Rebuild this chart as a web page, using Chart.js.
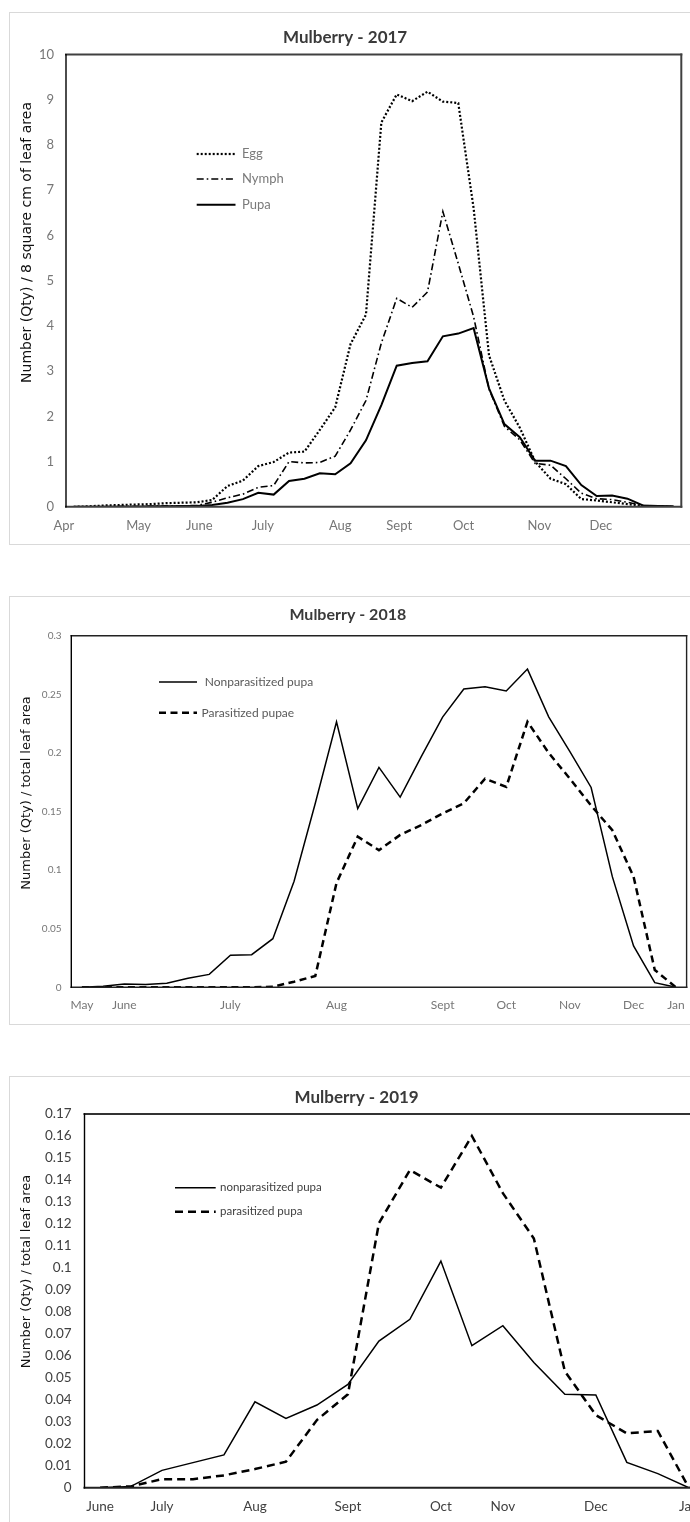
<!DOCTYPE html>
<html>
<head>
<meta charset="utf-8">
<script src="https://cdn.jsdelivr.net/npm/chart.js@4.4.0/dist/chart.umd.min.js"></script>
<style>
html,body{margin:0;padding:0;background:#fff;overflow:hidden;width:690px;height:1522px;position:relative;}
canvas{position:absolute;}
</style>
</head>
<body>
<canvas id="c1" width="690" height="533" style="left:9px;top:12px;width:690px;height:533px;"></canvas>
<canvas id="c2" width="693" height="429" style="left:9px;top:596px;width:693px;height:429px;"></canvas>
<canvas id="c3" width="705" height="460" style="left:9px;top:1076px;width:705px;height:460px;"></canvas>
<script>
// ---------- 2017 ----------
const months2017 = ['Apr','May','June','July','Aug','Sept','Oct','Nov','Dec'];
const monthPos2017 = [-0.64, 4.22, 8.17, 12.3, 17.33, 21.16, 25.35, 30.27, 34.27];
const yTicks2017 = [0,1,2,3,4,5,6,7,8,9,10];
const egg2017 = [0,0.01,0.03,0.04,0.05,0.06,0.08,0.09,0.1,0.15,0.46,0.58,0.9,0.99,1.2,1.22,1.7,2.2,3.6,4.25,8.5,9.12,8.97,9.18,8.96,8.93,6.6,3.35,2.35,1.75,1.0,0.62,0.5,0.17,0.14,0.1,0.06,0.02,0.01,0];
const nymph2017 = [0,0,0,0.01,0.01,0.01,0.02,0.02,0.03,0.1,0.2,0.28,0.43,0.47,1.0,0.97,0.98,1.12,1.7,2.35,3.62,4.61,4.41,4.75,6.53,5.38,4.2,2.6,1.78,1.48,0.96,0.92,0.62,0.3,0.18,0.16,0.1,0.03,0.01,0];
const pupa2017 = [0,0,0,0,0,0.01,0.01,0.02,0.02,0.04,0.09,0.17,0.31,0.27,0.57,0.62,0.74,0.72,0.96,1.47,2.25,3.12,3.18,3.22,3.77,3.83,3.95,2.62,1.83,1.54,1.02,1.02,0.9,0.48,0.24,0.25,0.18,0.03,0.02,0.01];

// ---------- 2018 ----------
const months2018 = ['May','June','July','Aug','Sept','Oct','Nov','Dec','Jan'];
const monthPos2018 = [0,2,7,12,17,20,23,26,28];
const yTicks2018 = [0,0.05,0.1,0.15,0.2,0.25,0.3];
const nonpar2018 = [0,0.001,0.0028,0.0023,0.0034,0.0077,0.011,0.0273,0.0278,0.0415,0.0905,0.157,0.2266,0.1525,0.1877,0.1623,0.197,0.2305,0.2545,0.2565,0.2528,0.2715,0.2308,0.201,0.1705,0.0944,0.0353,0.004,0];
const par2018 = [0,0,0,0,0,0,0,0,0,0.0005,0.0048,0.0097,0.089,0.1285,0.117,0.13,0.1385,0.1484,0.157,0.178,0.171,0.2266,0.2,0.178,0.155,0.134,0.0944,0.0148,0];

// ---------- 2019 ----------
const months2019 = ['June','July','Aug','Sept','Oct','Nov','Dec','Jan'];
const monthPos2019 = [0,2,5,8,11,13,16,19];
const yTicks2019 = [0,0.01,0.02,0.03,0.04,0.05,0.06,0.07,0.08,0.09,0.1,0.11,0.12,0.13,0.14,0.15,0.16,0.17];
const nonpar2019 = [0,0.0006,0.0079,0.0114,0.0149,0.0391,0.0315,0.0376,0.047,0.0667,0.0766,0.1031,0.0646,0.0737,0.057,0.0425,0.0422,0.0115,0.0064,0];
const par2019 = [0,0.0006,0.0039,0.0039,0.0056,0.0085,0.0118,0.0308,0.0425,0.1203,0.1445,0.1365,0.16,0.134,0.1134,0.053,0.033,0.0247,0.0258,0];

const toXY = arr => arr.map((v, i) => ({x: i, y: v}));

const extras = {
  id: 'extras',
  beforeDraw(chart, args, o) {
    const c = chart.ctx;
    c.save();
    c.strokeStyle = '#d9d9d9'; c.lineWidth = 1;
    c.strokeRect(0.5, 0.5, chart.width - 1, chart.height - 1);
    c.restore();
  },
  afterDraw(chart, args, o) {
    const c = chart.ctx, a = chart.chartArea;
    c.save();
    const seg = (x1, y1, x2, y2, s) => {
      c.beginPath(); c.lineWidth = s[0]; c.strokeStyle = s[1]; c.lineCap = 'square';
      c.moveTo(x1, y1); c.lineTo(x2, y2); c.stroke();
    };
    seg(a.left, a.top, a.right, a.top, o.frame.top);
    seg(a.right, a.top, a.right, a.bottom, o.frame.right);
    seg(a.left, a.bottom, a.right, a.bottom, o.frame.bottom);
    seg(a.left, a.top, a.left, a.bottom, o.frame.left);
    c.lineCap = 'butt';
    chart.data.datasets.forEach((ds, i) => {
      const r = o.legend.rows[i];
      c.beginPath();
      c.setLineDash(ds.borderDash || []);
      c.lineWidth = ds.borderWidth; c.strokeStyle = ds.borderColor;
      c.moveTo(r.x0, r.y); c.lineTo(r.x1, r.y); c.stroke();
      c.setLineDash([]);
      c.fillStyle = o.legend.color; c.font = o.legend.font;
      c.textAlign = 'left'; c.textBaseline = 'middle';
      c.fillText(ds.label, r.tx, r.y);
    });
    c.translate(o.yTitle.x, o.yTitle.y);
    c.rotate(-Math.PI / 2);
    c.font = o.yTitle.font; c.fillStyle = o.yTitle.color;
    c.textAlign = 'center'; c.textBaseline = 'middle';
    c.fillText(o.yTitle.text, 0, 0);
    c.restore();
  }
};

function build(id, o) {
  return new Chart(document.getElementById(id), {
    type: 'line',
    data: {datasets: o.datasets},
    options: {
      responsive: false, animation: false, events: [],
      layout: {padding: {left: 0, right: o.padRight, top: 0, bottom: 0}},
      elements: {point: {radius: 0}, line: {tension: 0, fill: false, borderJoinStyle: 'miter'}},
      plugins: {
        legend: {display: false}, tooltip: {enabled: false},
        title: {display: true, text: o.title, color: '#3a3a3a',
          font: {family: "Lato, 'Liberation Sans', sans-serif", size: o.titleSize, weight: 'bold', lineHeight: 1.2},
          padding: {top: o.titlePad[0], bottom: o.titlePad[1]}},
        extras: o.extras
      },
      scales: {
        x: {
          type: 'linear', min: -0.5, max: o.n - 0.5,
          grid: {display: false, drawTicks: false}, border: {display: false},
          afterBuildTicks: ax => { ax.ticks = o.xPos.map(v => ({value: v})); },
          afterFit: ax => { ax.height = o.xAxisH; },
          ticks: {autoSkip: false, maxRotation: 0, minRotation: 0, padding: o.xPad, color: o.tickColor,
            font: {family: "Lato, 'Liberation Sans', sans-serif", size: o.xFont, lineHeight: 1.2},
            callback: (v, i) => o.xLabels[i]}
        },
        y: {
          min: 0, max: o.yMax,
          grid: {display: false, drawTicks: false}, border: {display: false},
          afterBuildTicks: ax => { ax.ticks = o.yTicks.map(v => ({value: v})); },
          afterFit: ax => { ax.width = o.yAxisW; },
          ticks: {padding: o.yPad, color: o.tickColor,
            font: {family: "Lato, 'Liberation Sans', sans-serif", size: o.yFont},
            callback: v => String(v)}
        }
      }
    },
    plugins: [extras]
  });
}

build('c1', {
  title: 'Mulberry - 2017', titleSize: 17, titlePad: [15.3, 6.9],
  n: egg2017.length, xPos: monthPos2017, xLabels: months2017, yTicks: yTicks2017, yMax: 10,
  padRight: 17.7, xAxisH: 38.2, yAxisW: 57, xPad: 11.2, yPad: 12, xFont: 13, yFont: 13, tickColor: '#767676',
  datasets: [
    {label: 'Egg', data: toXY(egg2017), borderColor: '#000', borderWidth: 2.2, borderDash: [2, 2]},
    {label: 'Nymph', data: toXY(nymph2017), borderColor: '#000', borderWidth: 1.6, borderDash: [7, 3, 1.6, 3]},
    {label: 'Pupa', data: toXY(pupa2017), borderColor: '#000', borderWidth: 2}
  ],
  extras: {
    frame: {top: [2, '#404040'], right: [2, '#404040'], bottom: [2, '#404040'], left: [1.4, '#000']},
    legend: {font: "13px Lato, 'Liberation Sans', sans-serif", color: '#7a7a7a',
      rows: [{x0: 187.7, x1: 226.5, tx: 233, y: 142}, {x0: 187.7, x1: 226.5, tx: 233, y: 167}, {x0: 187.7, x1: 226.5, tx: 233, y: 192.7}]},
    yTitle: {text: 'Number (Qty) / 8 square cm of leaf area', x: 18, y: 230.5, font: "14px 'DejaVu Sans', sans-serif", color: '#111'}
  }
});

build('c2', {
  title: 'Mulberry - 2018', titleSize: 16, titlePad: [9.4, 11.1],
  n: nonpar2018.length, xPos: monthPos2018, xLabels: months2018, yTicks: yTicks2018, yMax: 0.3,
  padRight: 15.4, xAxisH: 37.7, yAxisW: 62.3, xPad: 10.5, yPad: 9.7, xFont: 12, yFont: 10, tickColor: '#767676',
  datasets: [
    {label: 'Nonparasitized pupa', data: toXY(nonpar2018), borderColor: '#000', borderWidth: 1.5},
    {label: 'Parasitized pupae', data: toXY(par2018), borderColor: '#000', borderWidth: 2.5, borderDash: [7, 4.5]}
  ],
  extras: {
    frame: {top: [1.4, '#222'], right: [1.4, '#222'], bottom: [1.6, '#222'], left: [1.4, '#000']},
    legend: {font: "12px Lato, 'Liberation Sans', sans-serif", color: '#595959',
      rows: [{x0: 150, x1: 188, tx: 195.7, y: 86}, {x0: 150, x1: 188, tx: 192.6, y: 116.7}]},
    yTitle: {text: 'Number (Qty) / total leaf area', x: 17.4, y: 197, font: "13px 'DejaVu Sans', sans-serif", color: '#111'}
  }
});

build('c3', {
  title: 'Mulberry - 2019', titleSize: 17, titlePad: [11.5, 6.1],
  n: nonpar2019.length, xPos: monthPos2019, xLabels: months2019, yTicks: yTicks2019, yMax: 0.17,
  padRight: 9.7, xAxisH: 48.3, yAxisW: 75.5, xPad: 10.5, yPad: 12.8, xFont: 13.5, yFont: 13.5, tickColor: '#404040',
  datasets: [
    {label: 'nonparasitized pupa', data: toXY(nonpar2019), borderColor: '#000', borderWidth: 1.5},
    {label: 'parasitized pupa', data: toXY(par2019), borderColor: '#000', borderWidth: 2.5, borderDash: [8, 5]}
  ],
  extras: {
    frame: {top: [2, '#333'], right: [2, '#333'], bottom: [2, '#222'], left: [1.4, '#000']},
    legend: {font: "11.5px Lato, 'Liberation Sans', sans-serif", color: '#404040',
      rows: [{x0: 166, x1: 206.7, tx: 211, y: 111.7}, {x0: 166, x1: 206.7, tx: 211, y: 135.7}]},
    yTitle: {text: 'Number (Qty) / total leaf area', x: 17.4, y: 195.5, font: "13px 'DejaVu Sans', sans-serif", color: '#111'}
  }
});
</script>
</body>
</html>
